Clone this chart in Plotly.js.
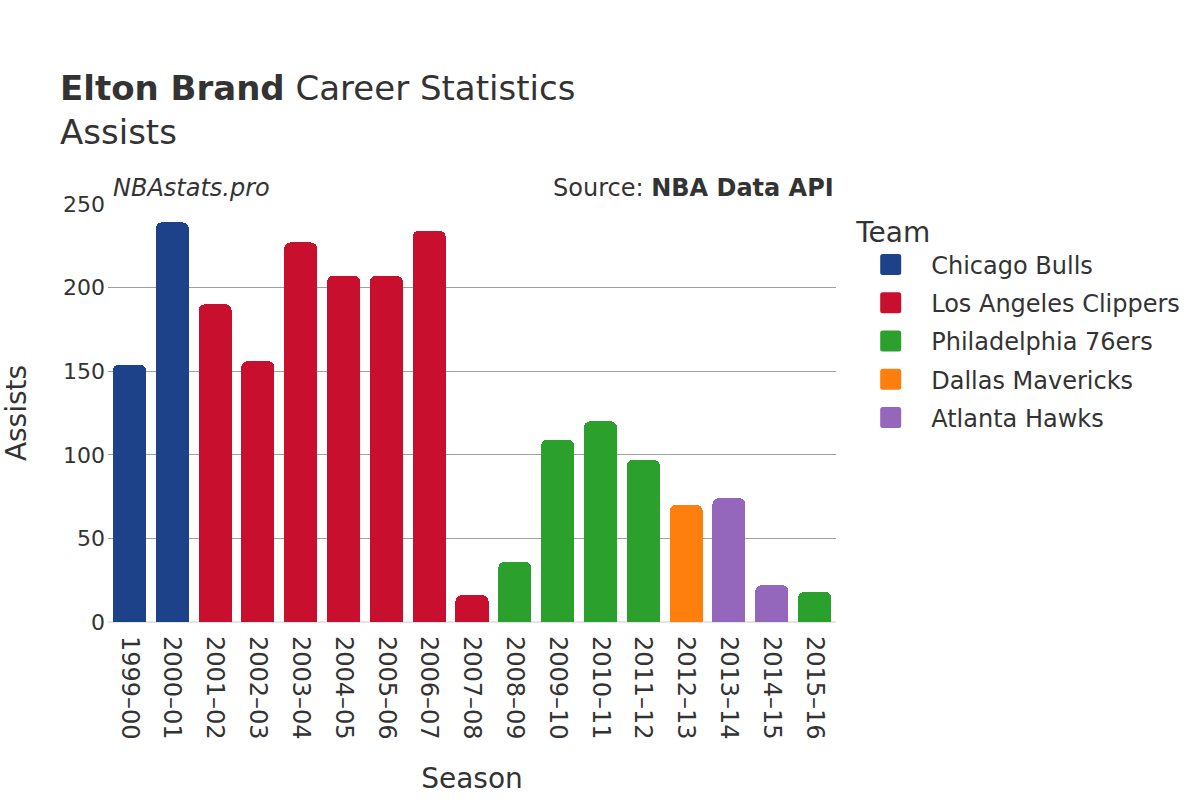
<!DOCTYPE html>
<html>
<head>
<meta charset="utf-8">
<script src="https://cdn.plot.ly/plotly-3.0.1.min.js"></script>
<style>
html,body{margin:0;padding:0;background:#fff}
#chart{width:1200px;height:800px}
#chart .legend .legendpoints{transform:translate(-2px,0)}
#chart .legend .legendpoints path{stroke-linejoin:round !important}
</style>
</head>
<body>
<div id="chart"></div>
<script>
const seasons = ["1999–00","2000–01","2001–02","2002–03","2003–04","2004–05","2005–06","2006–07","2007–08","2008–09","2009–10","2010–11","2011–12","2012–13","2013–14","2014–15","2015–16"];
const assists = [154, 239, 190, 156, 227, 207, 207, 234, 16, 36, 109, 120, 97, 70, 74, 22, 18];
const seasonTeams = ["Chicago Bulls","Chicago Bulls","Los Angeles Clippers","Los Angeles Clippers","Los Angeles Clippers","Los Angeles Clippers","Los Angeles Clippers","Los Angeles Clippers","Los Angeles Clippers","Philadelphia 76ers","Philadelphia 76ers","Philadelphia 76ers","Philadelphia 76ers","Dallas Mavericks","Atlanta Hawks","Atlanta Hawks","Philadelphia 76ers"];
const teams = ["Chicago Bulls","Los Angeles Clippers","Philadelphia 76ers","Dallas Mavericks","Atlanta Hawks"];
const teamColors = ["#1d428a","#c8102e","#2ca02c","#ff7f0e","#9467bd"];

const font = "DejaVu Sans, sans-serif";
const traces = [];
teams.forEach((team, ti) => {
  const xs = [], ys = [];
  seasons.forEach((s, i) => { if (seasonTeams[i] === team) { xs.push(s); ys.push(assists[i]); } });
  traces.push({
    type: "bar", name: team, x: xs, y: ys, legendgroup: team, showlegend: false,
    marker: { color: teamColors[ti], cornerradius: 6 },
    hovertemplate: "%{x}: %{y}<extra>" + team + "</extra>"
  });
});
// legend entries (square swatches), no visible marks
teams.forEach((team, ti) => {
  traces.push({
    type: "scatter", mode: "markers", name: team, x: [null], y: [null], legendgroup: team, showlegend: true,
    marker: { symbol: "square", size: 16, color: teamColors[ti], line: { color: teamColors[ti], width: 5 } },
    hoverinfo: "skip"
  });
});

const layout = {
  width: 1200, height: 800,
  paper_bgcolor: "#fff", plot_bgcolor: "#fff",
  font: { family: font, color: "#333", size: 20 },
  margin: { l: 108, r: 364, t: 204, b: 178 },
  barmode: "stack",
  bargap: 0.229,
  showlegend: true,
  title: {
    text: "<b>Elton Brand</b> Career Statistics<br>Assists",
    x: 0.05, xanchor: "left", xref: "container",
    y: 0.875, yanchor: "top", yref: "container",
    font: { family: font, size: 34, color: "#333" }
  },
  xaxis: {
    type: "category", categoryorder: "array", categoryarray: seasons,
    tickangle: 90, tickfont: { size: 24 }, ticklabelstandoff: 13,
    title: { text: "Season", font: { size: 28 }, standoff: 29 },
    showgrid: false, zeroline: false, showline: false, ticks: ""
  },
  yaxis: {
    range: [0, 250], tickvals: [0, 50, 100, 150, 200, 250],
    tickfont: { size: 22 }, ticklabelstandoff: 2,
    title: { text: "Assists", font: { size: 28 }, standoff: 28 },
    gridcolor: "#a0a0a0", gridwidth: 1,
    zeroline: true, zerolinecolor: "#e5e5e5", zerolinewidth: 2,
    ticks: "", showline: false
  },
  legend: {
    title: { text: "Team", font: { size: 28 } },
    traceorder: "grouped", tracegroupgap: 4,
    x: 1.025, xanchor: "left", y: 0.995, yanchor: "top",
    font: { size: 24 }, itemwidth: 67, itemsizing: "trace"
  },
  annotations: [
    { text: "<i>NBAstats.pro</i>", xref: "paper", yref: "paper", x: 0.004, y: 1, xanchor: "left", yanchor: "bottom", showarrow: false, font: { size: 24, color: "#333" } },
    { text: "Source: <b>NBA Data API</b>", xref: "paper", yref: "paper", x: 1, y: 1, xanchor: "right", yanchor: "bottom", showarrow: false, font: { size: 24, color: "#333" } }
  ]
};

Plotly.newPlot("chart", traces, layout, { displayModeBar: false, staticPlot: true });
</script>
</body>
</html>
